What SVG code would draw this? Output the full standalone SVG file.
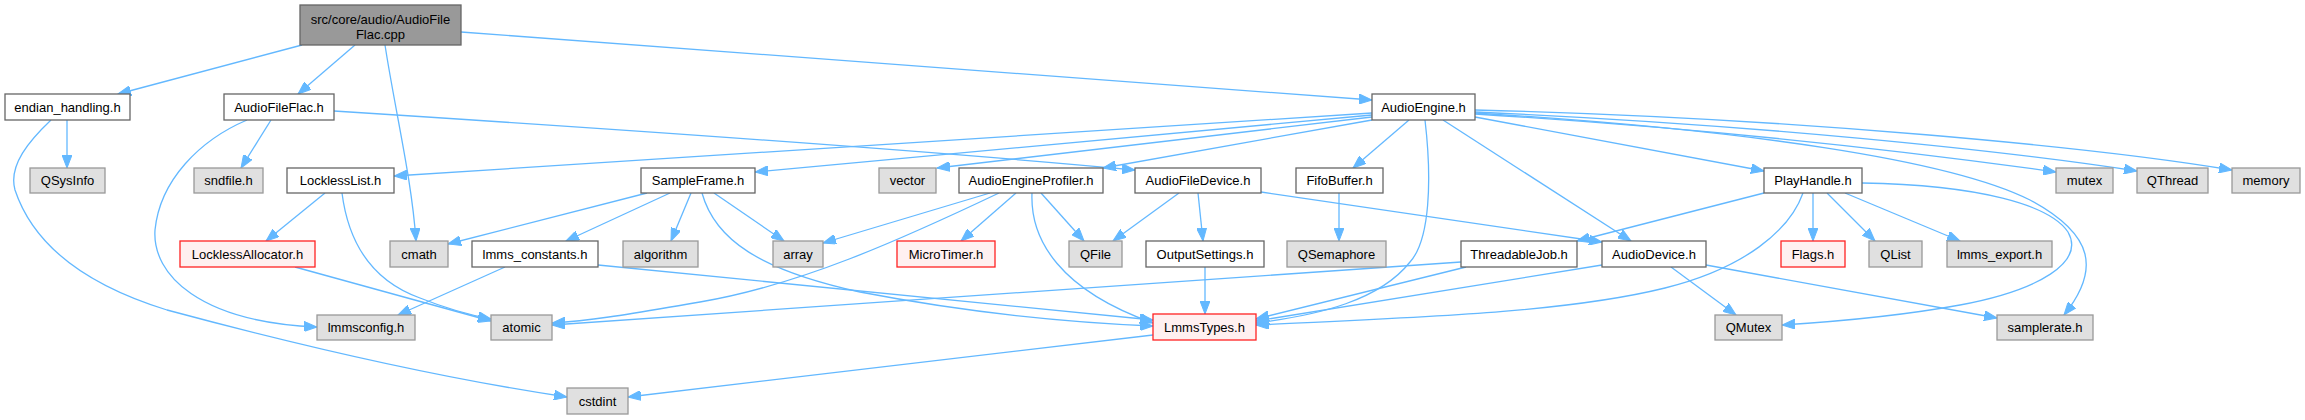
<svg xmlns="http://www.w3.org/2000/svg" width="2305" height="420" viewBox="0 0 2305 420">
<style>
rect{stroke-width:1.3}
.w{fill:#fff;stroke:#666}
.g{fill:#e0e0e0;stroke:#999}
.r{fill:#fff0f0;stroke:#f22}
.root{fill:#999;stroke:#666}
text{font-family:"Liberation Sans",Arial,sans-serif;font-size:13px;text-anchor:middle;fill:#000}
#edges path{fill:none;stroke:#63b8ff;stroke-width:1.3;marker-end:url(#a)}
</style>
<defs>
<marker id="a" markerUnits="userSpaceOnUse" markerWidth="14" markerHeight="10" refX="13" refY="5" orient="auto">
<path d="M0,0 L13,5 L0,10 z" fill="#63b8ff" stroke="#63b8ff" stroke-width="1"/>
</marker>
</defs>
<rect width="2305" height="420" fill="#fff"/>
<g id="edges">
<path d="M302,45 L118,94"/>
<path d="M355,45 L298,94"/>
<path d="M385,45 C395,110 412,180 416,241"/>
<path d="M461,32 L1372,100"/>
<path d="M67,120 L67,168"/>
<path d="M51,120 C30,140 8,165 15,190 C30,235 70,280 167,310 C260,335 420,375 567,397"/>
<path d="M271,120 L241,168"/>
<path d="M247,120 C200,140 160,180 155,230 C152,275 200,322 317,327"/>
<path d="M334,111 C600,128 900,148 1135,170"/>
<path d="M1372,113 L394,176"/>
<path d="M1372,115 L755,172"/>
<path d="M1372,117 L937,168"/>
<path d="M1372,120 L1103,168"/>
<path d="M1409,120 L1353,168"/>
<path d="M1425,120 C1432,180 1430,240 1410,262 C1380,300 1320,315 1256,323"/>
<path d="M1443,120 L1631,241"/>
<path d="M1475,117 L1764,171"/>
<path d="M1475,114 C1700,128 1900,150 2056,172"/>
<path d="M1475,112 C1750,124 2000,150 2137,171"/>
<path d="M1475,110 C1800,118 2100,148 2232,170"/>
<path d="M1475,113 C1750,130 1950,160 2030,200 C2095,235 2100,270 2064,315"/>
<path d="M1862,183 C1980,185 2050,205 2068,232 C2085,262 2040,290 1960,305 C1900,316 1830,322 1782,325"/>
<path d="M1764,193 L1577,241"/>
<path d="M1803,193 C1790,230 1745,268 1665,288 C1560,314 1400,318 1256,325"/>
<path d="M1813,193 L1813,241"/>
<path d="M1827,193 L1875,241"/>
<path d="M1845,193 L1960,241"/>
<path d="M1461,262 L552,325"/>
<path d="M1466,267 L1256,319"/>
<path d="M1602,265 L1256,321"/>
<path d="M1671,267 L1736,315"/>
<path d="M1706,265 L1997,318"/>
<path d="M1179,193 L1113,241"/>
<path d="M1198,193 L1203,241"/>
<path d="M1261,192 L1602,242"/>
<path d="M1205,267 L1205,314"/>
<path d="M1339,193 L1339,241"/>
<path d="M990,193 L823,243"/>
<path d="M999,193 C900,240 800,285 700,302 C640,312 600,320 552,323"/>
<path d="M1016,193 L961,241"/>
<path d="M1032,193 C1030,240 1060,290 1153,323"/>
<path d="M1041,193 L1084,241"/>
<path d="M647,193 L448,244"/>
<path d="M670,193 L566,241"/>
<path d="M691,193 L671,241"/>
<path d="M714,193 L784,241"/>
<path d="M702,193 C715,240 760,270 860,292 C980,315 1080,323 1153,326"/>
<path d="M598,265 L1153,320"/>
<path d="M505,267 L398,315"/>
<path d="M325,193 L266,241"/>
<path d="M342,193 C348,240 370,280 420,298 C450,310 470,315 491,319"/>
<path d="M295,267 L491,321"/>
<path d="M1153,335 L628,397"/>
</g>
<g id="n_root"><rect class="root" x="300" y="5" width="161" height="40"/><text x="380.5" y="24">src/core/audio/AudioFile</text><text x="380.5" y="39">Flac.cpp</text></g>
<g id="n_endian"><rect class="w" x="5" y="94" width="125" height="26"/><text x="67.5" y="111.5">endian_handling.h</text></g>
<g id="n_audiofileflac"><rect class="w" x="224" y="94" width="110" height="26"/><text x="279" y="111.5">AudioFileFlac.h</text></g>
<g id="n_audioengine"><rect class="w" x="1372" y="94" width="103" height="26"/><text x="1423.5" y="111.5">AudioEngine.h</text></g>
<g id="n_qsysinfo"><rect class="g" x="30" y="168" width="75" height="25"/><text x="67.5" y="185">QSysInfo</text></g>
<g id="n_sndfile"><rect class="g" x="194" y="168" width="69" height="25"/><text x="228.5" y="185">sndfile.h</text></g>
<g id="n_locklesslist"><rect class="w" x="287" y="168" width="107" height="25"/><text x="340.5" y="185">LocklessList.h</text></g>
<g id="n_sampleframe"><rect class="w" x="641" y="168" width="114" height="25"/><text x="698" y="185">SampleFrame.h</text></g>
<g id="n_vector"><rect class="g" x="879" y="168" width="57" height="25"/><text x="907.5" y="185">vector</text></g>
<g id="n_aeprofiler"><rect class="w" x="959" y="168" width="144" height="25"/><text x="1031" y="185">AudioEngineProfiler.h</text></g>
<g id="n_audiofiledevice"><rect class="w" x="1135" y="168" width="126" height="25"/><text x="1198" y="185">AudioFileDevice.h</text></g>
<g id="n_fifobuffer"><rect class="w" x="1296" y="168" width="87" height="25"/><text x="1339.5" y="185">FifoBuffer.h</text></g>
<g id="n_playhandle"><rect class="w" x="1764" y="168" width="98" height="25"/><text x="1813" y="185">PlayHandle.h</text></g>
<g id="n_mutex"><rect class="g" x="2056" y="168" width="57" height="25"/><text x="2084.5" y="185">mutex</text></g>
<g id="n_qthread"><rect class="g" x="2137" y="168" width="71" height="25"/><text x="2172.5" y="185">QThread</text></g>
<g id="n_memory"><rect class="g" x="2232" y="168" width="68" height="25"/><text x="2266" y="185">memory</text></g>
<g id="n_locklessallocator"><rect class="r" x="180" y="241" width="135" height="26"/><text x="247.5" y="258.5">LocklessAllocator.h</text></g>
<g id="n_cmath"><rect class="g" x="390" y="241" width="58" height="26"/><text x="419" y="258.5">cmath</text></g>
<g id="n_lmms_constants"><rect class="w" x="472" y="241" width="126" height="26"/><text x="535" y="258.5">lmms_constants.h</text></g>
<g id="n_algorithm"><rect class="g" x="623" y="241" width="75" height="26"/><text x="660.5" y="258.5">algorithm</text></g>
<g id="n_array"><rect class="g" x="773" y="241" width="50" height="26"/><text x="798" y="258.5">array</text></g>
<g id="n_microtimer"><rect class="r" x="897" y="241" width="98" height="26"/><text x="946" y="258.5">MicroTimer.h</text></g>
<g id="n_qfile"><rect class="g" x="1069" y="241" width="53" height="26"/><text x="1095.5" y="258.5">QFile</text></g>
<g id="n_outputsettings"><rect class="w" x="1146" y="241" width="118" height="26"/><text x="1205" y="258.5">OutputSettings.h</text></g>
<g id="n_qsemaphore"><rect class="g" x="1287" y="241" width="99" height="26"/><text x="1336.5" y="258.5">QSemaphore</text></g>
<g id="n_threadablejob"><rect class="w" x="1461" y="241" width="116" height="26"/><text x="1519" y="258.5">ThreadableJob.h</text></g>
<g id="n_audiodevice"><rect class="w" x="1602" y="241" width="104" height="26"/><text x="1654" y="258.5">AudioDevice.h</text></g>
<g id="n_flags"><rect class="r" x="1781" y="241" width="64" height="26"/><text x="1813" y="258.5">Flags.h</text></g>
<g id="n_qlist"><rect class="g" x="1869" y="241" width="53" height="26"/><text x="1895.5" y="258.5">QList</text></g>
<g id="n_lmms_export"><rect class="g" x="1947" y="241" width="105" height="26"/><text x="1999.5" y="258.5">lmms_export.h</text></g>
<g id="n_lmmsconfig"><rect class="g" x="317" y="315" width="98" height="25"/><text x="366" y="332">lmmsconfig.h</text></g>
<g id="n_atomic"><rect class="g" x="491" y="315" width="61" height="25"/><text x="521.5" y="332">atomic</text></g>
<g id="n_lmmstypes"><rect class="r" x="1153" y="314" width="103" height="26"/><text x="1204.5" y="331.5">LmmsTypes.h</text></g>
<g id="n_qmutex"><rect class="g" x="1715" y="315" width="67" height="25"/><text x="1748.5" y="332">QMutex</text></g>
<g id="n_samplerate"><rect class="g" x="1997" y="315" width="96" height="25"/><text x="2045" y="332">samplerate.h</text></g>
<g id="n_cstdint"><rect class="g" x="567" y="388" width="61" height="26"/><text x="597.5" y="405.5">cstdint</text></g>
</svg>
